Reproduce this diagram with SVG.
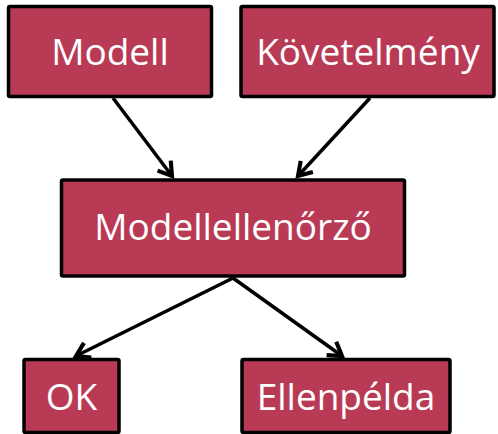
<svg xmlns="http://www.w3.org/2000/svg" width="498" height="434" viewBox="0 0 498 434">
<style>
.box{fill:#B93A55;stroke:#000;stroke-width:3.5}
.lbl{fill:#fff;font-family:"Open Sans","Liberation Sans",sans-serif;font-size:37px;text-anchor:middle}
.con{stroke:#000;stroke-width:3.5;fill:none}
</style>
<defs>
<marker id="arr" markerUnits="userSpaceOnUse" markerWidth="26" markerHeight="26" viewBox="-15 -11 19 22" refX="0" refY="0" orient="auto">
<path d="M-11,-7 L0,0 L-11,7" fill="none" stroke="#000" stroke-width="3.5" stroke-linejoin="miter"/>
</marker>
</defs>
<rect width="498" height="434" fill="#fff"/>
<g id="connectors">
<line class="con" x1="113" y1="98" x2="172" y2="176" marker-end="url(#arr)"/>
<line class="con" x1="370" y1="98" x2="298" y2="176" marker-end="url(#arr)"/>
<line class="con" x1="233" y1="278" x2="76" y2="356" marker-end="url(#arr)"/>
<line class="con" x1="233" y1="278" x2="342" y2="356" marker-end="url(#arr)"/>
</g>
<g id="modell">
<rect class="box" x="8.5" y="6.5" width="203" height="90" rx="1.5"/>
<text class="lbl" x="110" y="65">Modell</text>
</g>
<g id="kovetelmeny">
<rect class="box" x="241" y="6.5" width="253" height="90" rx="1.5"/>
<text class="lbl" x="368" y="65">Követelmény</text>
</g>
<g id="modellellenorzo">
<rect class="box" x="61.5" y="180" width="343" height="96" rx="1.5"/>
<text class="lbl" x="233" y="240">Modellellenőrző</text>
</g>
<g id="ok">
<rect class="box" x="24" y="359.5" width="95" height="73" rx="1.5"/>
<text class="lbl" x="71.5" y="410">OK</text>
</g>
<g id="ellenpelda">
<rect class="box" x="242" y="359.5" width="208" height="73" rx="1.5"/>
<text class="lbl" x="346" y="410">Ellenpélda</text>
</g>
</svg>
